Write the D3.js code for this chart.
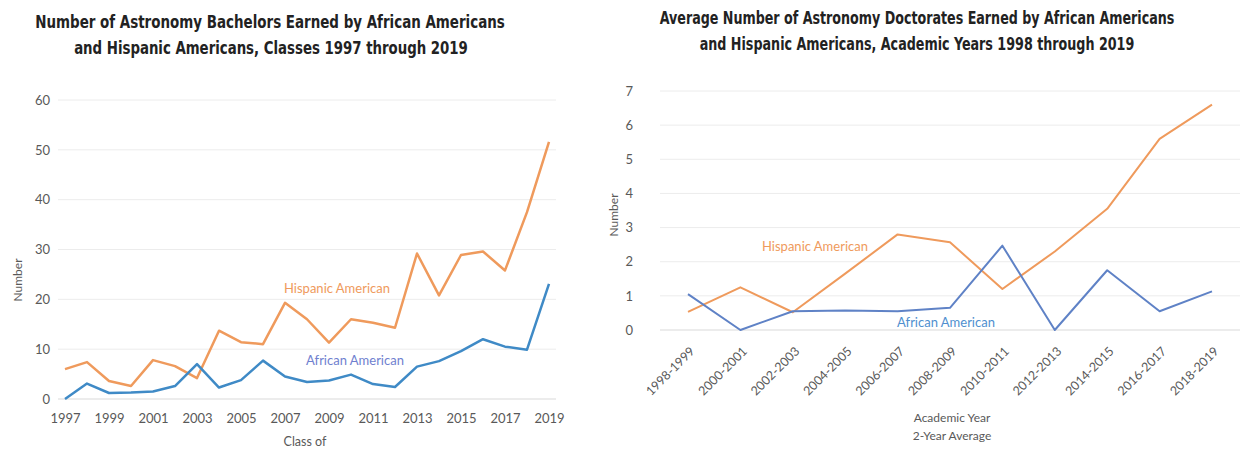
<!DOCTYPE html>
<html><head><meta charset="utf-8">
<script src="https://cdn.jsdelivr.net/npm/d3@7/dist/d3.min.js"></script>
<style>
body{margin:0;background:#fff;}
svg text{font-family:Lato,"Open Sans",sans-serif;}
.title{font-family:"Liberation Sans Narrow","DejaVu Sans Condensed",sans-serif;font-weight:bold;font-size:18px;fill:#222;}
</style></head>
<body><svg id="c" width="1244" height="449"></svg>
<script>
// Left chart: bachelors
const years = d3.range(1997, 2020);
const yearTicks = [1997,1999,2001,2003,2005,2007,2009,2011,2013,2015,2017,2019];
const bachHispanic = [6,7.4,3.6,2.6,7.8,6.6,4.2,13.7,11.4,11,19.3,16,11.3,16,15.3,14.3,29.2,20.8,28.9,29.6,25.8,37.5,51.6];
const bachAfrican = [0,3.1,1.2,1.3,1.5,2.6,7,2.3,3.8,7.7,4.5,3.4,3.7,4.9,3,2.4,6.5,7.6,9.6,12,10.5,9.9,23.1];
const bachTicks = [0,10,20,30,40,50,60];
// Right chart: doctorates
const periods = ["1998-1999","2000-2001","2002-2003","2004-2005","2006-2007","2008-2009","2010-2011","2012-2013","2014-2015","2016-2017","2018-2019"];
const docHispanic = [0.53,1.25,0.52,1.65,2.8,2.57,1.2,2.3,3.55,5.6,6.6];
const docAfrican = [1.05,0,0.55,0.57,0.55,0.65,2.47,0,1.75,0.55,1.13];
const docTicks = [0,1,2,3,4,5,6,7];

const orange = "#ef9a5c", blueL = "#3f8ac6", blueR = "#5f82c6";
const svg = d3.select("#c");

function title(g, cx, y, len, txt){
  const t = g.append("text").attr("class","title").attr("x",0).attr("y",0).attr("text-anchor","middle").text(txt);
  const w = t.node().getComputedTextLength();
  const s = Math.min(1, len / w);
  t.attr("transform",`translate(${cx},${y}) scale(${s},1)`);
}

// ---------- Left ----------
{
  const g = svg.append("g");
  const x = d3.scaleLinear().domain([1997,2019]).range([65,549]);
  const y = d3.scaleLinear().domain([0,60]).range([399,100]);
  g.selectAll("line.grid").data(bachTicks).join("line")
    .attr("x1",58).attr("x2",556).attr("y1",d=>y(d)).attr("y2",d=>y(d))
    .attr("stroke",d=>d===0?"#d9d9d9":"#ececec").attr("stroke-width",1);
  const ya = g.append("g").attr("transform","translate(50,0)")
    .call(d3.axisLeft(y).tickValues(bachTicks).tickSize(0).tickPadding(0));
  ya.select(".domain").remove();
  ya.selectAll("text").attr("fill","#595959").style("font-size","13px");
  const xa = g.append("g").attr("transform","translate(0,399)")
    .call(d3.axisBottom(x).tickValues(yearTicks).tickFormat(d3.format("d")).tickSize(0).tickPadding(15));
  xa.select(".domain").remove();
  xa.selectAll("text").attr("fill","#595959").style("font-size","13px");
  const line = d3.line().x((d,i)=>x(years[i])).y(d=>y(d));
  g.append("path").attr("d",line(bachHispanic)).attr("fill","none").attr("stroke",orange).attr("stroke-width",2.5).attr("stroke-linejoin","round");
  g.append("path").attr("d",line(bachAfrican)).attr("fill","none").attr("stroke",blueL).attr("stroke-width",2.5).attr("stroke-linejoin","round");
  g.append("text").attr("x",337).attr("y",293).attr("text-anchor","middle").attr("fill",orange).style("font-size","13px").text("Hispanic American");
  g.append("text").attr("x",355).attr("y",365).attr("text-anchor","middle").attr("fill","#6f7fcf").style("font-size","13px").text("African American");
  g.append("text").attr("x",305).attr("y",446).attr("text-anchor","middle").attr("fill","#595959").style("font-size","12.5px").text("Class of");
  g.append("text").attr("transform","translate(22,280) rotate(-90)").attr("text-anchor","middle").attr("fill","#595959").style("font-size","12px").text("Number");
  title(g, 270, 28, 470, "Number of Astronomy Bachelors Earned by African Americans");
  title(g, 271, 54, 394, "and Hispanic Americans, Classes 1997 through 2019");
}

// ---------- Right ----------
{
  const g = svg.append("g");
  const x = d3.scalePoint().domain(periods).range([688,1212]);
  const y = d3.scaleLinear().domain([0,7]).range([330,91]);
  g.selectAll("line.grid").data(docTicks).join("line")
    .attr("x1",660).attr("x2",1240).attr("y1",d=>y(d)).attr("y2",d=>y(d))
    .attr("stroke",d=>d===0?"#d9d9d9":"#ececec").attr("stroke-width",1);
  const ya = g.append("g").attr("transform","translate(648,0)")
    .call(d3.axisLeft(y).tickValues(docTicks).tickFormat(d3.format("d")).tickSize(0).tickPadding(15));
  ya.select(".domain").remove();
  ya.selectAll("text").attr("fill","#595959").style("font-size","13px");
  const xa = g.append("g").attr("transform","translate(0,330)")
    .call(d3.axisBottom(x).tickSize(0).tickPadding(0));
  xa.select(".domain").remove();
  xa.selectAll("text").attr("fill","#595959").style("font-size","12.5px")
    .attr("text-anchor","end").attr("dy",0).attr("transform","translate(7,22) rotate(-45)");
  const line = d3.line().x((d,i)=>x(periods[i])).y(d=>y(d));
  g.append("path").attr("d",line(docHispanic)).attr("fill","none").attr("stroke",orange).attr("stroke-width",2).attr("stroke-linejoin","round");
  g.append("path").attr("d",line(docAfrican)).attr("fill","none").attr("stroke",blueR).attr("stroke-width",2).attr("stroke-linejoin","round");
  g.append("text").attr("x",815).attr("y",251).attr("text-anchor","middle").attr("fill",orange).style("font-size","13px").text("Hispanic American");
  g.append("text").attr("x",946).attr("y",327).attr("text-anchor","middle").attr("fill","#4f8fcf").style("font-size","13px").text("African American");
  g.append("text").attr("x",952).attr("y",422).attr("text-anchor","middle").attr("fill","#595959").style("font-size","12px").text("Academic Year");
  g.append("text").attr("x",952).attr("y",440).attr("text-anchor","middle").attr("fill","#595959").style("font-size","12px").text("2-Year Average");
  g.append("text").attr("transform","translate(618,215) rotate(-90)").attr("text-anchor","middle").attr("fill","#595959").style("font-size","12px").text("Number");
  title(g, 917, 24, 515, "Average Number of Astronomy Doctorates Earned by African Americans");
  title(g, 917, 50, 435, "and Hispanic Americans, Academic Years 1998 through 2019");
}
</script></body></html>
